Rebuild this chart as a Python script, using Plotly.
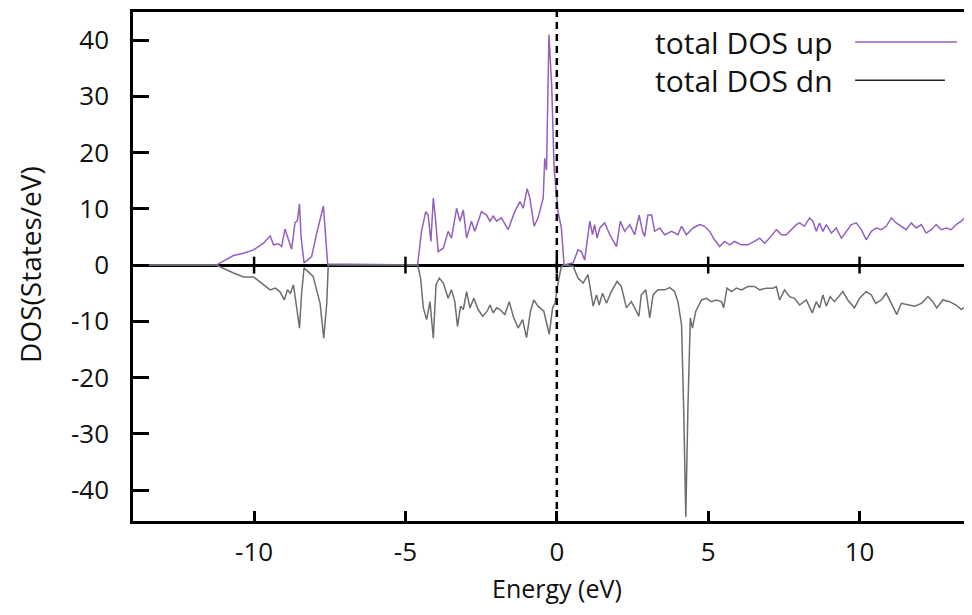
import plotly.graph_objects as go

# ---- data ----
energy_up = [-14.0, -11.25, -10.68, -10.35, -10.02, -9.69, -9.47, -9.36, -9.2, -9.09, -8.98, -8.87, -8.76,
             -8.65, -8.57, -8.5, -8.45, -8.35, -8.1, -7.93, -7.84, -7.71, -7.57, -4.6,
             -4.47, -4.33, -4.25, -4.16, -4.08, -4.0, -3.92, -3.75, -3.59, -3.48, -3.31, -3.2, -3.09,
             -2.98, -2.82, -2.71, -2.49, -2.32, -2.21, -2.1, -1.99, -1.83, -1.61, -1.39, -1.22, -1.11,
             -0.98, -0.89, -0.75, -0.62, -0.45, -0.4, -0.34, -0.26, -0.17, -0.09, 0.04, 0.15, 0.24,
             0.54, 0.70, 0.81, 0.92, 1.09, 1.18, 1.25, 1.33, 1.42, 1.58, 1.75, 1.97, 2.10, 2.24, 2.41,
             2.57, 2.72, 2.83, 2.90, 3.01, 3.13, 3.23, 3.40, 3.56, 3.79, 4.0, 4.12, 4.28, 4.5, 4.72,
             4.88, 5.05, 5.21, 5.38, 5.54, 5.71, 5.87, 6.10, 6.31, 6.53, 6.70, 6.86, 7.03, 7.25, 7.42,
             7.58, 7.75, 7.91, 8.02, 8.18, 8.35, 8.46, 8.57, 8.68, 8.79, 8.90, 9.07, 9.23, 9.40, 9.56,
             9.73, 9.89, 10.06, 10.22, 10.39, 10.55, 10.72, 10.88, 11.05, 11.21, 11.38, 11.54, 11.71,
             11.87, 12.04, 12.2, 12.37, 12.53, 12.7, 12.86, 13.03, 13.19, 13.36, 13.47, 13.57, 13.65, 13.7]
dos_up = [0, 0, 1.7, 2.1, 2.7, 3.9, 5.2, 3.6, 3.8, 3.3, 6.4, 4.5, 2.8,
          7.5, 7.9, 10.9, 5.1, 0.4, 1.5, 5.7, 7.5, 10.5, 0.2, 0,
          6.0, 9.5, 8.9, 4.2, 11.9, 7.8, 2.4, 3.0, 6.0, 4.8, 10.1, 7.8, 9.8,
          4.8, 7.8, 6.0, 9.5, 8.9, 7.8, 8.7, 7.8, 8.4, 6.3, 9.5, 11.3, 10.1,
          13.6, 11.9, 6.9, 8.4, 11.9, 19.0, 16.9, 41.0, 32.0, 17.2, 9.5, 6.6, 0,
          0.4, 2.7, 2.4, 0.9, 7.8, 5.4, 7.2, 4.8, 6.6, 7.5, 5.4, 3.3, 7.8, 6.0, 7.2,
          5.4, 8.9, 6.0, 5.1, 8.9, 8.9, 6.0, 6.6, 5.4, 6.0, 5.4, 6.9, 5.4, 6.6, 7.2,
          6.9, 6.0, 4.5, 3.3, 4.2, 3.6, 4.2, 3.6, 3.6, 4.2, 4.8, 3.9, 4.8, 6.3, 5.4,
          5.4, 6.3, 7.2, 7.5, 6.9, 8.4, 7.8, 6.0, 7.5, 6.0, 7.2, 5.7, 6.6, 4.8, 6.0,
          7.2, 7.5, 6.3, 4.5, 6.0, 6.6, 6.3, 6.9, 8.4, 7.5, 6.9, 6.3, 7.5,
          6.6, 7.2, 5.7, 6.3, 7.2, 6.3, 6.6, 6.3, 7.2, 7.8, 8.4, 8.1, 9.5, 8.7]

energy_dn = [-14.0, -11.25, -10.68, -10.35, -10.02, -9.69, -9.47, -9.3, -9.15, -9.0, -8.9, -8.8, -8.7,
             -8.6, -8.5, -8.43, -8.35, -8.05, -7.9, -7.82, -7.7, -7.6, -7.55, -4.6,
             -4.5, -4.41, -4.3, -4.19, -4.08, -3.99, -3.88, -3.75, -3.59, -3.48, -3.37, -3.28, -3.18,
             -3.09, -2.98, -2.87, -2.74, -2.6, -2.45, -2.3, -2.21, -2.1, -1.99, -1.88, -1.72, -1.57,
             -1.44, -1.28, -1.13, -1.0, -0.87, -0.76, -0.62, -0.43, -0.25, -0.14, -0.06, 0.03, 0.14,
             0.2, 0.54, 0.70, 0.87, 1.03, 1.2, 1.31, 1.40, 1.51, 1.64, 1.80, 1.99, 2.13, 2.30, 2.46,
             2.57, 2.71, 2.79, 2.94, 3.07, 3.18, 3.34, 3.56, 3.73, 3.89, 4.0, 4.12, 4.19, 4.26, 4.33,
             4.41, 4.48, 4.59, 4.78, 4.94, 5.11, 5.27, 5.44, 5.51, 5.62, 5.77, 5.93, 6.10, 6.31, 6.53,
             6.70, 6.92, 7.14, 7.25, 7.36, 7.52, 7.69, 7.85, 8.02, 8.24, 8.44, 8.57, 8.68, 8.79, 8.90,
             9.03, 9.17, 9.45, 9.61, 9.83, 10.0, 10.22, 10.39, 10.53, 10.72, 10.88, 11.05, 11.23,
             11.38, 11.6, 11.82, 12.04, 12.26, 12.42, 12.55, 12.75, 12.97, 13.19, 13.36, 13.52, 13.7]
dos_dn = [0, 0, -1.4, -2.1, -2.1, -3.5, -4.4, -4.1, -4.7, -6.2, -4.4, -5.0, -3.5,
          -7.3, -11.2, -5.0, -0.5, -2.0, -5.0, -6.8, -13.0, -6.8, 0, 0,
          -2.3, -7.6, -9.7, -6.5, -13.0, -3.5, -2.3, -3.2, -5.9, -4.4, -6.5, -10.9, -7.3,
          -7.9, -4.7, -7.6, -5.9, -7.9, -9.1, -8.2, -7.1, -8.5, -7.6, -7.9, -8.8, -6.5,
          -9.1, -11.2, -9.7, -12.9, -8.2, -6.2, -7.3, -8.2, -12.3, -7.6, -6.8, -3.5, -0.5,
          0, -0.2, -2.3, -3.2, -1.7, -7.3, -5.3, -7.1, -5.0, -6.8, -4.7, -2.9, -3.8, -7.6, -6.5,
          -7.6, -9.1, -5.3, -4.4, -9.4, -5.3, -4.4, -4.4, -4.0, -4.7, -6.5, -10.6, -25.4, -44.8, -25.4,
          -9.4, -11.2, -8.2, -6.2, -5.9, -6.5, -6.2, -6.5, -7.6, -4.1, -4.7, -4.1, -4.4, -3.8, -3.8,
          -4.4, -4.1, -4.1, -3.8, -6.2, -4.4, -5.6, -5.9, -7.1, -6.2, -8.5, -6.5, -7.6, -5.3, -7.3,
          -5.6, -6.5, -4.7, -6.2, -7.6, -5.9, -4.7, -5.3, -6.8, -6.2, -5.0, -6.8, -8.8,
          -6.8, -7.1, -7.3, -6.8, -5.6, -6.5, -7.6, -6.2, -6.5, -7.1, -7.9, -7.3, -6.5]

x_ticks = [-10, -5, 0, 5, 10]
y_ticks = [40, 30, 20, 10, 0, -10, -20, -30, -40]
series_names = ["total DOS up", "total DOS dn"]
x_range = [-14.0, 13.45]
y_range = [-45.5, 45.0]

# ---- style ----
FONT = "Open Sans"
C_UP = "#9460c0"
C_DN = "#6e6e6e"
C_DN_KEY = "#222222"

fig = go.Figure()
fig.add_trace(go.Scatter(x=energy_up, y=dos_up, mode="lines", name=series_names[0],
                         line=dict(color=C_UP, width=1.5), showlegend=False, cliponaxis=True))
fig.add_trace(go.Scatter(x=energy_dn, y=dos_dn, mode="lines", name=series_names[1],
                         line=dict(color=C_DN, width=1.5), showlegend=False, cliponaxis=True))

# dashed Fermi level
fig.add_shape(type="line", xref="x", yref="paper", x0=0, x1=0, y0=0, y1=1,
              line=dict(color="black", width=2.5, dash="7px,5px"))
# tick marks crossing the zero line
for t in x_ticks:
    fig.add_shape(type="line", xref="x", yref="y", x0=t, x1=t, y0=-1.5, y1=1.5,
                  line=dict(color="black", width=2.5))

# gnuplot-style key (text, then line sample on the right)
key_y = [0.941, 0.866]
key_colors = [C_UP, C_DN_KEY]
key_x1 = [0.9916, 0.977]
for name, ky, kc, kx1 in zip(series_names, key_y, key_colors, key_x1):
    fig.add_annotation(xref="paper", yref="paper", x=0.845, y=ky, text=name,
                       showarrow=False, xanchor="right", yanchor="middle",
                       font=dict(family=FONT, size=30, color="#111"))
    fig.add_shape(type="line", xref="paper", yref="paper", x0=0.869, x1=kx1, y0=ky, y1=ky,
                  line=dict(color=kc, width=1.5))

# axis titles
fig.add_annotation(xref="paper", yref="paper", x=-0.124, y=0.505, text="DOS(States/eV)",
                   textangle=-90, showarrow=False, xanchor="center", yanchor="middle",
                   font=dict(family=FONT, size=28, color="#111"))
fig.add_annotation(xref="paper", yref="paper", x=0.510, y=-0.1316, text="Energy (eV)",
                   showarrow=False, xanchor="center", yanchor="middle",
                   font=dict(family=FONT, size=25, color="#111"))

# page has an 8px body margin; keep the figure inside the 972x615 window
fig.update_layout(
    width=956, height=599,
    margin=dict(l=125, r=0, t=4, b=86),
    paper_bgcolor="white", plot_bgcolor="white",
    font=dict(family=FONT, color="#111"),
    showlegend=False,
)
fig.update_xaxes(range=x_range, tickvals=x_ticks, ticktext=[str(t) for t in x_ticks],
                 ticks="inside", ticklen=10, tickwidth=2.5, tickcolor="black",
                 showline=True, linecolor="black", linewidth=2.5, mirror=True,
                 showgrid=False, zeroline=False, tickfont=dict(family=FONT, size=26),
                 ticklabelstandoff=6)
fig.update_yaxes(range=y_range, tickvals=y_ticks, ticktext=[str(t) for t in y_ticks],
                 ticks="inside", ticklen=16, tickwidth=2.5, tickcolor="black",
                 showline=True, linecolor="black", linewidth=2.5, mirror=False,
                 showgrid=False, zeroline=True, zerolinecolor="black", zerolinewidth=2.5,
                 tickfont=dict(family=FONT, size=26), ticklabelstandoff=16)

fig.write_html("out.html")
